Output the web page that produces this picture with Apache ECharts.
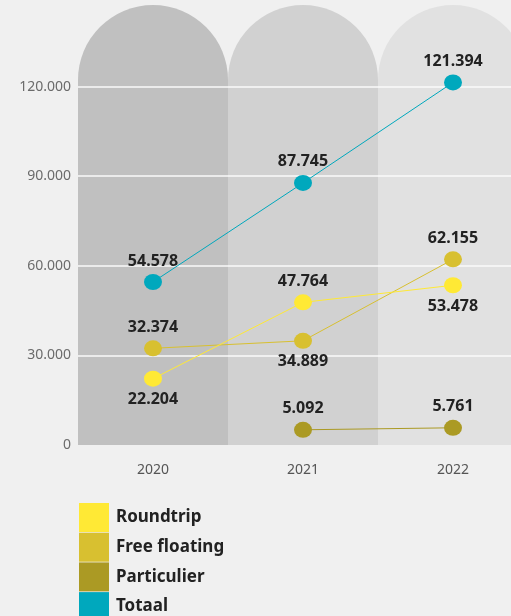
<!DOCTYPE html>
<html>
<head>
<meta charset="utf-8">
<script src="https://cdn.jsdelivr.net/npm/echarts@6/dist/echarts.min.js"></script>
<style>
  html, body { margin: 0; padding: 0; background: #f0f0f0; }
  #chart { width: 511px; height: 616px; }
</style>
</head>
<body>
<div id="chart"></div>
<script>
// Deelauto's per jaar, per type
const years = ['2020', '2021', '2022'];
const roundtrip = [22204, 47764, 53478];
const freeFloating = [32374, 34889, 62155];
const particulier = [null, 5092, 5761];
const totaal = [54578, 87745, 121394];

const seriesNames = ['Roundtrip', 'Free floating', 'Particulier', 'Totaal'];
const seriesColors = ['#ffe935', '#d8c030', '#ab9a24', '#00a8bd'];
const columnColors = ['#c0c0c0', '#d1d1d1', '#e1e1e1'];

// label placement per point: true = under the marker
const labelBelow = {
  'Roundtrip': [true, false, true],
  'Free floating': [false, true, false],
  'Particulier': [false, false, false],
  'Totaal': [false, false, false]
};

const heavyFont = '"Noto Sans", sans-serif';

function fmt(v) {
  return String(Math.round(v)).replace(/\B(?=(\d{3})+(?!\d))/g, '.');
}

function lineSeries(name, values, color) {
  return {
    name: name,
    type: 'line',
    z: 3,
    data: values.map(function (v, i) {
      return {
        value: v,
        label: { position: labelBelow[name][i] ? 'bottom' : 'top' }
      };
    }),
    symbol: 'circle',
    symbolSize: [18, 16],
    showSymbol: true,
    itemStyle: { color: color },
    lineStyle: { color: color, width: 1 },
    label: {
      show: true,
      color: '#222',
      fontFamily: heavyFont,
      fontWeight: 'bold',
      fontSize: 16,
      formatter: function (p) { return fmt(p.value); }
    },
    emphasis: { disabled: true },
    connectNulls: false
  };
}

const chart = echarts.init(document.getElementById('chart'), null, { renderer: 'canvas' });

chart.setOption({
  backgroundColor: '#f0f0f0',
  animation: false,
  textStyle: { fontFamily: 'Noto Sans' },
  grid: {
    left: 78, width: 450, top: -3, bottom: 171,
    containLabel: false,
    outerBoundsMode: 'none'
  },
  xAxis: {
    type: 'category',
    data: years,
    boundaryGap: true,
    axisLine: { show: false },
    axisTick: { show: false },
    axisLabel: { color: '#555', fontSize: 14, margin: 18, fontFamily: 'Noto Sans' }
  },
  yAxis: {
    type: 'value',
    min: 0,
    max: 150000,
    interval: 30000,
    z: 1,
    axisLine: { show: false },
    axisTick: { show: false },
    axisLabel: {
      color: '#6b6b6b',
      fontSize: 14,
      margin: 7,
      showMaxLabel: false,
      fontFamily: 'Noto Sans',
      formatter: function (v) { return fmt(v); }
    },
    splitLine: {
      show: true,
      showMinLine: false,
      showMaxLine: false,
      lineStyle: { color: '#fafafa', width: 1.5 }
    }
  },
  legend: {
    orient: 'vertical',
    left: 79,
    top: 503,
    height: 140,
    padding: 0,
    icon: 'rect',
    itemWidth: 30,
    itemHeight: 29,
    itemGap: 0.7,
    data: seriesNames,
    selectedMode: false,
    textStyle: { color: '#222', fontSize: 17, fontWeight: 'bold', fontFamily: heavyFont, padding: [3, 0, 0, 2] }
  },
  series: [
    {
      // rounded background column per year
      type: 'custom',
      z: 0,
      silent: true,
      data: years.map(function (y, i) { return [i]; }),
      renderItem: function (params, api) {
        const i = api.value(0);
        const base = api.coord([i, 0]);
        const bw = api.size([1, 0])[0];
        const top = params.coordSys.y + 8;
        return {
          type: 'rect',
          shape: { x: base[0] - bw / 2, y: top, width: bw, height: base[1] - top, r: [bw / 2, bw / 2, 0, 0] },
          style: { fill: columnColors[i] }
        };
      }
    },
    lineSeries('Particulier', particulier, seriesColors[2]),
    lineSeries('Free floating', freeFloating, seriesColors[1]),
    lineSeries('Roundtrip', roundtrip, seriesColors[0]),
    lineSeries('Totaal', totaal, seriesColors[3])
  ]
});
</script>
</body>
</html>
